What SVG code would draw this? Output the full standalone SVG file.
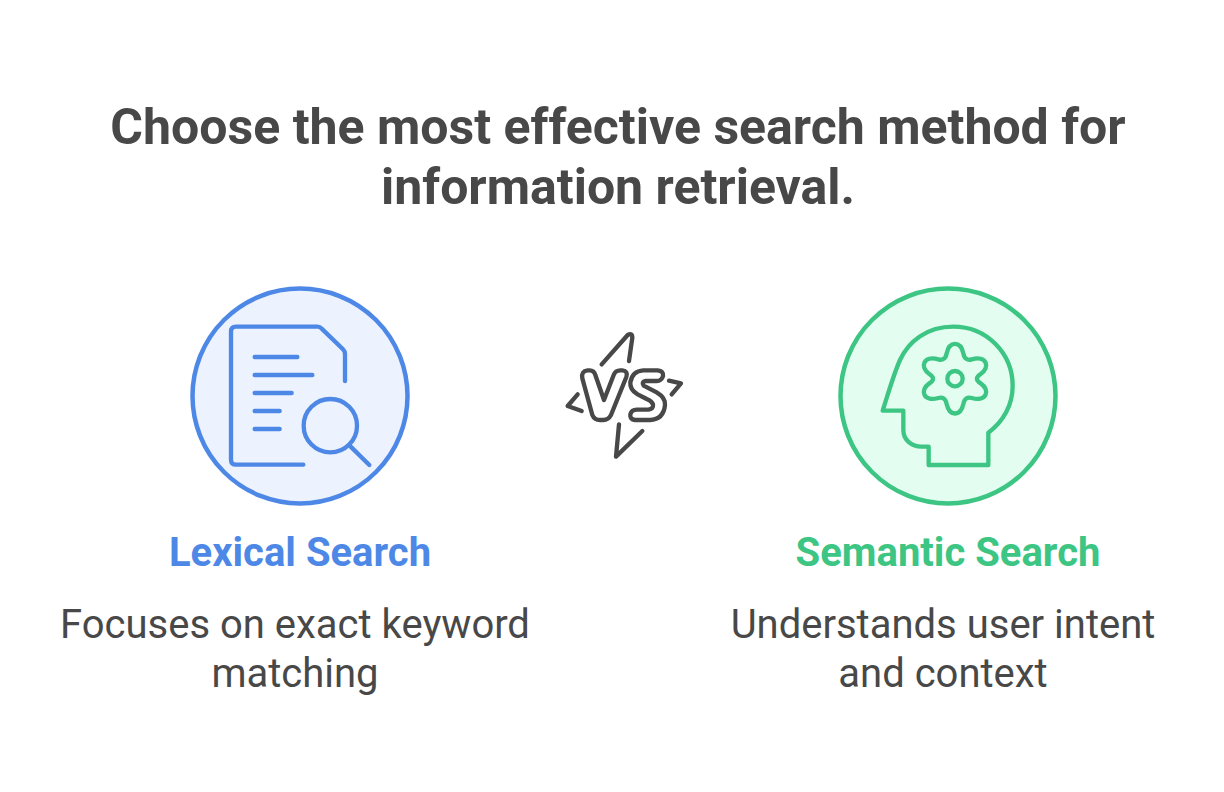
<svg xmlns="http://www.w3.org/2000/svg" width="1224" height="792" viewBox="0 0 1224 792">
<style>
text{font-family:Roboto,"Liberation Sans",sans-serif;text-anchor:middle}
.t{font-size:50px;font-weight:700;fill:#484848}
.h{font-size:40px;font-weight:700}
.d{font-size:40px;fill:#484848}
.i{fill:none;stroke-width:13;stroke-linecap:round;stroke-linejoin:round}
.blue{stroke:#4e88e7}.green{stroke:#3cc583}
.vs{fill:none;stroke:#484848;stroke-width:13;stroke-linecap:round;stroke-linejoin:round}
</style>
<rect width="1224" height="792" fill="#fff"/>
<g id="title"><text class="t" x="618" y="144">Choose the most effective search method for</text><text class="t" x="618" y="204">information retrieval.</text></g>
<g id="lexical">
<circle cx="300" cy="396" r="107.5" fill="#edf3fe" stroke="#4e88e7" stroke-width="4.5"/>
<g class="i blue" transform="translate(180 280) scale(.33333)">
<path d="M495 303V222Q495 214 489 208L425 146Q420 140 412 140H168Q153 140 153 155V540Q153 554 168 554H370"/>
<path d="M224 231H352M224 285H397M224 339H335M224 393H299M224 447H299"/>
<circle cx="451" cy="437" r="80"/><path d="M512 500L568 555"/>
</g>
<text class="h" x="300" y="566" fill="#4e88e7">Lexical Search</text>
<text class="d" x="295" y="638">Focuses on exact keyword</text><text class="d" x="295" y="687">matching</text>
</g>
<g id="semantic">
<circle cx="948" cy="396" r="107.5" fill="#e3fdf1" stroke="#3cc583" stroke-width="4.5"/>
<g class="i green" transform="translate(830 280) scale(.33333)">
<path d="M158 392H220V450C220 480 245 500 275 500H296V555H475V458C520 425 548 375 548 318C548 220 470 140 370 140C290 140 235 185 210 240C190 285 175 340 158 392Z"/>
<circle cx="375" cy="296" r="23"/>
<path d="M350 220C358 182 392 182 400 220C403 236 412 242 425 238C470 225 482 262 452 282C437 292 437 300 452 310C482 330 470 367 425 354C412 350 403 356 400 372C392 410 358 410 350 372C347 356 338 350 325 354C280 367 268 330 298 310C313 300 313 292 298 282C268 262 280 225 325 238C338 242 347 236 350 220Z"/>
</g>
<text class="h" x="948" y="566" fill="#3cc583">Semantic Search</text>
<text class="d" x="943" y="638">Understands user intent</text><text class="d" x="943" y="687">and context</text>
</g>
<g id="vs" class="vs" transform="translate(555 325) scale(.33333)">
<path d="M140 118L218 30Q232 22 232 38L222 108"/>
<path d="M68 208L38 243L80 258"/>
<path d="M342 167L378 175L350 208"/>
<path d="M192 298L183 395L262 318"/>
<path d="M98 136H104Q117 136 121 150L147 225L176 150Q181 136 196 136H202Q220 138 214 156L168 270Q160 285 145 285H135Q118 285 112 270L82 160Q78 138 98 136Z"/>
<path d="M265 136H308Q326 138 324 153Q320 168 305 168H272Q258 170 266 182L305 202Q332 218 330 240Q326 283 285 285H240Q224 283 226 268Q230 254 245 254H280Q296 252 294 238Q290 228 275 222L248 208Q224 194 226 172Q232 138 265 136Z"/>
</g>
</svg>
